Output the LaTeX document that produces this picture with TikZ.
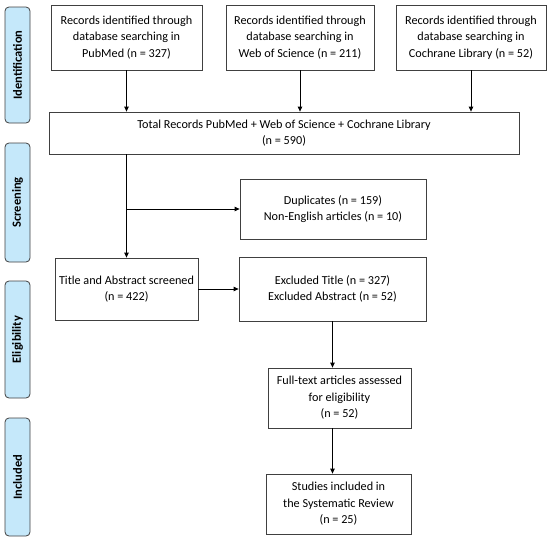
\documentclass[tikz,border=0pt]{standalone}
\usepackage{fontspec}
\setmainfont{Carlito}
\usepackage{xcolor}
\usepackage{tikz}
\usetikzlibrary{arrows.meta, positioning, calc}

\definecolor{phaseblue}{RGB}{197,232,250}
\definecolor{linegray}{RGB}{64,64,64}

\begin{document}
\begin{tikzpicture}[
    x=1pt, y=-1pt,
    box/.style={rectangle, draw=linegray, line width=0.8pt, align=center, inner sep=0pt, font=\fontsize{12.2}{16.5}\selectfont},
    phase/.style={rectangle, rounded corners=4pt, draw=linegray, line width=0.8pt, fill=phaseblue, rotate=90, minimum height=25pt, inner sep=0pt, font=\fontsize{12.5}{14}\selectfont\bfseries},
    arrow/.style={-{Triangle[length=5pt, width=4.5pt]}, line width=0.8pt, draw=black}
]
    \useasboundingbox (0,0) rectangle (550,541);

    \node[phase, minimum width=116pt] (ident) at (17.5,65) {Identification};
    \node[phase, minimum width=119pt] (screen) at (17.5,202.5) {Screening};
    \node[phase, minimum width=117pt] (elig) at (17.5,339.5) {Eligibility};
    \node[phase, minimum width=118pt] (incl) at (17.5,477) {Included};

    \node[box, minimum width=151pt, minimum height=65pt] (pubmed) at (126.5,37.5) {Records identified through\\database searching in\\PubMed (n = 327)};
    \node[box, minimum width=148pt, minimum height=65pt] (wos) at (300,37.5) {Records identified through\\database searching in\\Web of Science (n = 211)};
    \node[box, minimum width=150pt, minimum height=65pt] (cochrane) at (471,37.5) {Records identified through\\database searching in\\Cochrane Library (n = 52)};
    \node[box, minimum width=470pt, minimum height=42pt] (total) at (284,133) {Total Records PubMed + Web of Science + Cochrane Library\\(n = 590)};
    \node[box, minimum width=186pt, minimum height=60pt] (dup) at (333,209) {Duplicates (n = 159)\\Non-English articles (n = 10)};
    \node[box, minimum width=143pt, minimum height=62pt] (title) at (126.5,289) {Title and Abstract screened\\(n = 422)};
    \node[box, minimum width=187pt, minimum height=64pt] (excl) at (332.5,289) {Excluded Title (n = 327)\\Excluded Abstract (n = 52)};
    \node[box, minimum width=143pt, minimum height=60pt] (full) at (339.5,398) {Full-text articles assessed\\for eligibility\\(n = 52)};
    \node[box, minimum width=145pt, minimum height=60pt] (studies) at (338.5,504) {Studies included in\\the Systematic Review\\(n = 25)};

    \coordinate (split) at ($(title.north |- dup.west)$);

    \draw[arrow] (pubmed.south) -- (pubmed.south |- total.north);
    \draw[arrow] (wos.south) -- (wos.south |- total.north);
    \draw[arrow] (cochrane.south) -- (cochrane.south |- total.north);
    \draw[arrow] (total.south -| title.north) -- (title.north);
    \draw[arrow] (split) -- (dup.west);
    \draw[arrow] (title.east) -- (excl.west);
    \draw[arrow] (excl.south) -- (excl.south |- full.north);
    \draw[arrow] (excl.south |- full.south) -- (excl.south |- studies.north);
\end{tikzpicture}
\end{document}
